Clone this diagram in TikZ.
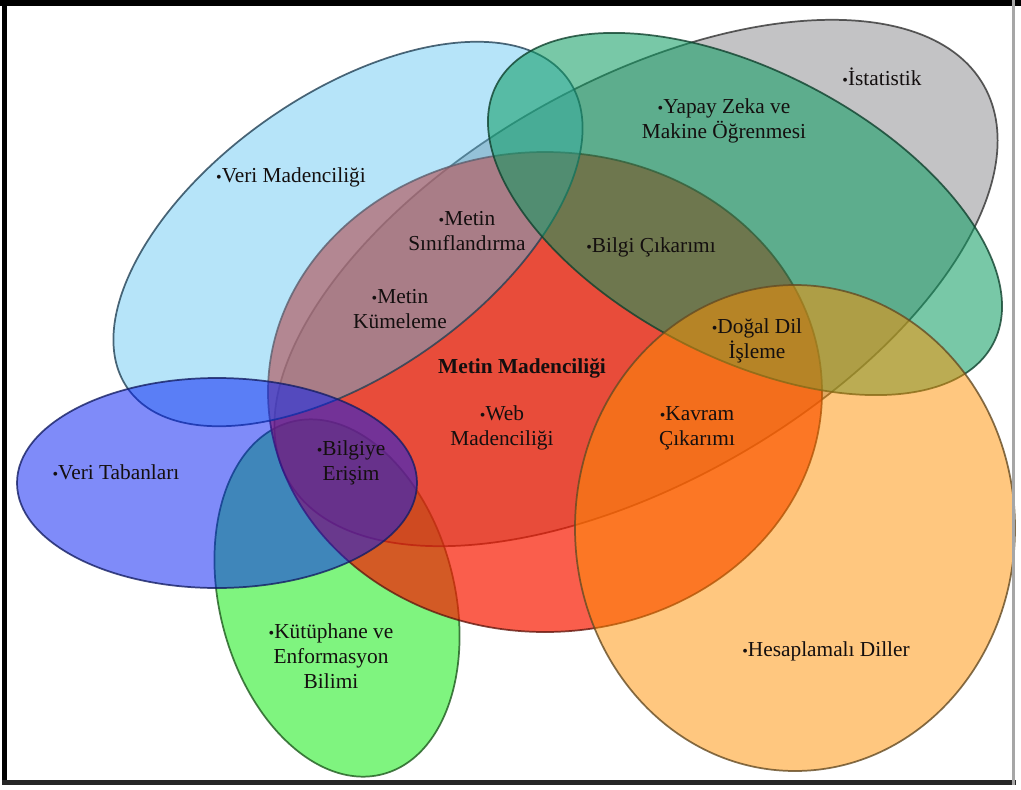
\documentclass[tikz,border=0pt]{standalone}
\usepackage{fontspec}
\setmainfont{Liberation Serif}
\definecolor{cLG}{RGB}{0,235,0}
\definecolor{oLG}{RGB}{30,90,30}
\definecolor{cGY}{RGB}{84,84,90}
\definecolor{oGY}{RGB}{50,50,50}
\definecolor{cRD}{RGB}{248,26,0}
\definecolor{oRD}{RGB}{100,25,15}
\definecolor{cLB}{RGB}{83,193,243}
\definecolor{oLB}{RGB}{35,65,85}
\definecolor{cGR}{RGB}{10,155,96}
\definecolor{oGR}{RGB}{15,65,45}
\definecolor{cOR}{RGB}{255,145,0}
\definecolor{oOR}{RGB}{100,75,35}
\definecolor{cBL}{RGB}{0,25,245}
\definecolor{oBL}{RGB}{20,30,100}
\definecolor{txt}{RGB}{20,15,15}
\newcommand{\mybul}{{\fontsize{12}{12}\selectfont •}}
\tikzset{
  shp/.style={line width=1.3pt, fill opacity=#1, draw opacity=0.8},
  lbl/.style={font=\fontsize{16}{19}\selectfont, align=center, text=txt, inner sep=0pt}
}
\begin{document}
\begin{tikzpicture}[x=0.75pt,y=-0.75pt]
\useasboundingbox (0,0) rectangle (1021,789);
\fill[white] (0,0) rectangle (1021,789);
% shapes, bottom to top
\path[shp=0.5, fill=cLG, draw=oLG, rotate around={14.5:(337,598)}] (337,598) ellipse [x radius=117.5, y radius=182];
\path[shp=0.35, fill=cGY, draw=oGY, rotate around={29.6:(636,283)}] (636,283) ellipse [x radius=400, y radius=200];
\path[shp=0.7, fill=cRD, draw=oRD] (545,392) ellipse [x radius=277, y radius=240];
\path[shp=0.42, fill=cLB, draw=oLB, rotate around={35:(348,234)}] (348,234) ellipse [x radius=269, y radius=140];
\path[shp=0.55, fill=cGR, draw=oGR, rotate around={-27.5:(745,214)}] (745,214) ellipse [x radius=280, y radius=143];
\path[shp=0.5, fill=cOR, draw=oOR] (795,528) ellipse [x radius=220, y radius=243];
\path[shp=0.5, fill=cBL, draw=oBL] (217,483) ellipse [x radius=200, y radius=105];
% labels
\node[lbl] (vm) at (291,177) {\mybul Veri Madenciliği};
\node[lbl] (ist) at (882,77) {\mybul İstatistik};
\node[lbl] (yz) at (724,121) {\mybul Yapay Zeka ve\\Makine Öğrenmesi};
\node[lbl] (ms) at (467,231) {\mybul Metin\\Sınıflandırma};
\node[lbl] (bc) at (651,247) {\mybul Bilgi Çıkarımı};
\node[lbl] (mk) at (400,309) {\mybul Metin\\Kümeleme};
\node[lbl] (dd) at (757,341) {\mybul Doğal Dil\\İşleme};
\node[lbl, font=\fontsize{16}{19}\selectfont\bfseries] (mm) at (522,368) {Metin Madenciliği};
\node[lbl] (wm) at (502,428) {\mybul Web\\Madenciliği};
\node[lbl] (kc) at (697,428) {\mybul Kavram\\Çıkarımı};
\node[lbl] (vt) at (116,472) {\mybul Veri Tabanları};
\node[lbl] (be) at (351,463) {\mybul Bilgiye\\Erişim};
\node[lbl] (ku) at (331,656) {\mybul Kütüphane ve\\Enformasyon\\Bilimi};
\node[lbl] (hd) at (826,651) {\mybul Hesaplamalı Diller};
% frame
\fill[black] (0,0) rectangle (1021,6);
\fill[black] (2,0) rectangle (7,785);
\fill[black!85] (2,780) rectangle (1016,785);
\fill[black!35] (1012,0) rectangle (1015,785);
\end{tikzpicture}
\end{document}
